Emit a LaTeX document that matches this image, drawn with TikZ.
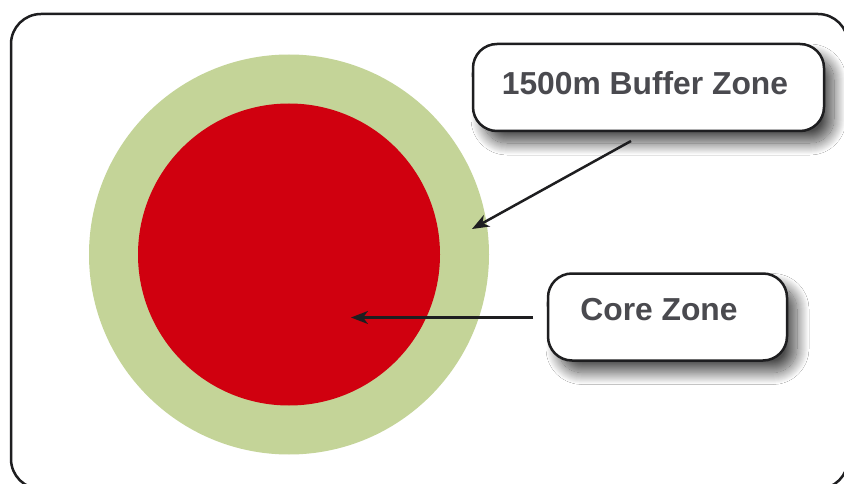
\documentclass[tikz,border=0pt]{standalone}
\usepackage{fontspec}
\setmainfont{Liberation Sans}
\usetikzlibrary{arrows.meta,shadows.blur,calc}
\definecolor{buffergreen}{RGB}{196,212,152}
\definecolor{corered}{RGB}{208,0,15}
\definecolor{labelgray}{RGB}{74,74,79}
\definecolor{inkdark}{RGB}{30,30,32}
\tikzset{
  frameline/.style={draw=inkdark,line width=2.5pt,rounded corners=30pt},
  zonebox/.style={draw=inkdark,fill=white,line width=2.5pt,rounded corners=24pt,
    minimum width=#1,minimum height=87pt,inner sep=0pt,
    blur shadow={shadow xshift=10pt,shadow yshift=-12pt,shadow blur radius=12pt,
      shadow blur steps=24,shadow opacity=70}},
  zonetext/.style={text=labelgray,font=\bfseries\fontsize{31.8}{36}\selectfont,inner sep=0pt},
  pointer/.style={draw=inkdark,line width=2.5pt,-{Stealth[length=17pt,width=13pt,inset=5pt]}},
}
\begin{document}
\begin{tikzpicture}[x=1pt,y=-1pt]
\useasboundingbox (0,0) rectangle (844,484);
\clip (0,0) rectangle (844,484);
\fill[white] (0,0) rectangle (844,484);
\draw[frameline] (11,14) rectangle (848,489);
\node[circle,fill=buffergreen,minimum size=400pt,inner sep=0pt] (buffer) at (289,254.5) {};
\node[circle,fill=corered,minimum size=302pt,inner sep=0pt] (core) at (289,254.5) {};
\node[zonebox=351pt] (b1) at (648.5,87.5) {};
\node[zonetext] (t1) at (645,83.5) {1500m Buffer Zone};
\node[zonebox=239pt] (b2) at (667.5,317) {};
\node[zonetext] (t2) at (659,309.5) {Core Zone};
\coordinate (a1s) at (631,141);
\coordinate (a1e) at (472,229);
\coordinate (a2s) at (533,317.5);
\coordinate (a2e) at (351,317.5);
\draw[pointer] (a1s) -- (a1e);
\draw[pointer] (a2s) -- (a2e);
\end{tikzpicture}
\end{document}
